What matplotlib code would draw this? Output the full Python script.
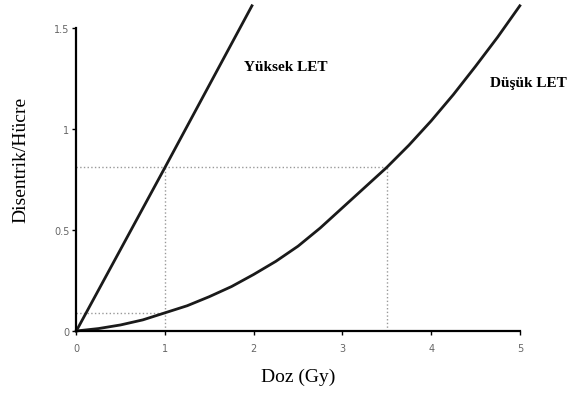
import matplotlib
matplotlib.use("Agg")
import matplotlib.pyplot as plt

# High LET (linear)
high_dose = [0.0, 1.0, 1.98]
high_val = [0.0, 0.81, 1.61]

# Low LET (curved)
low_dose = [0.0, 0.25, 0.5, 0.75, 1.0, 1.25, 1.5, 1.75, 2.0, 2.25, 2.5, 2.75,
            3.0, 3.25, 3.5, 3.75, 4.0, 4.25, 4.5, 4.75, 5.0]
low_val = [0.0, 0.012, 0.03, 0.055, 0.09, 0.125, 0.17, 0.22, 0.28, 0.345, 0.42, 0.51,
           0.61, 0.71, 0.81, 0.92, 1.04, 1.17, 1.31, 1.455, 1.61]

x_ticks = [0, 1, 2, 3, 4, 5]
y_ticks = [0, 0.5, 1, 1.5]
y_tick_labels = ["0", "0.5", "1", "1.5"]

ref_high = 0.81
ref_low = 0.09
ref_d_high = 1.0
ref_d_low = 3.5

fig = plt.figure(figsize=(5.72, 4.06), dpi=100)
ax = fig.add_axes([0.1334, 0.1823, 0.7754, 0.801])

serif = ["Liberation Serif", "DejaVu Serif"]

# reference dotted lines
ax.plot([0, ref_d_low], [ref_high, ref_high], ls=":", color="#999999", lw=1)
ax.plot([ref_d_high, ref_d_high], [0, ref_high], ls=":", color="#999999", lw=1)
ax.plot([ref_d_low, ref_d_low], [0, ref_high], ls=":", color="#999999", lw=1)
ax.plot([0, ref_d_high], [ref_low, ref_low], ls=":", color="#999999", lw=1)

ax.plot(high_dose, high_val, color="#1a1a1a", lw=2, clip_on=False)
ax.plot(low_dose, low_val, color="#1a1a1a", lw=2, clip_on=False)

ax.set_xlim(0, 5)
ax.set_ylim(0, 1.61)
ax.set_xticks(x_ticks)
ax.set_yticks(y_ticks)
ax.set_yticklabels(y_tick_labels)
ax.tick_params(axis="both", labelsize=7, labelcolor="#666666", length=3, width=1)
ax.tick_params(axis="x", pad=6)
ax.tick_params(axis="y", pad=2)

for s in ["top", "right"]:
    ax.spines[s].set_visible(False)
ax.spines["left"].set_bounds(0, 1.5)
ax.spines["left"].set_linewidth(1.6)
ax.spines["bottom"].set_linewidth(1.6)

ax.set_xlabel("Doz (Gy)", fontsize=14, family=serif, labelpad=10)
ax.set_ylabel("Disentrik/Hücre", fontsize=14, family=serif)
ax.yaxis.set_label_coords(-0.105, 0.53)

ax.text(2.36, 1.31, "Yüksek LET", fontsize=11, family=serif, ha="center", va="center", fontweight="bold")
ax.text(5.1, 1.23, "Düşük LET", fontsize=11, family=serif, ha="center", va="center", fontweight="bold", clip_on=False)

fig.savefig("out.png", dpi=100)
